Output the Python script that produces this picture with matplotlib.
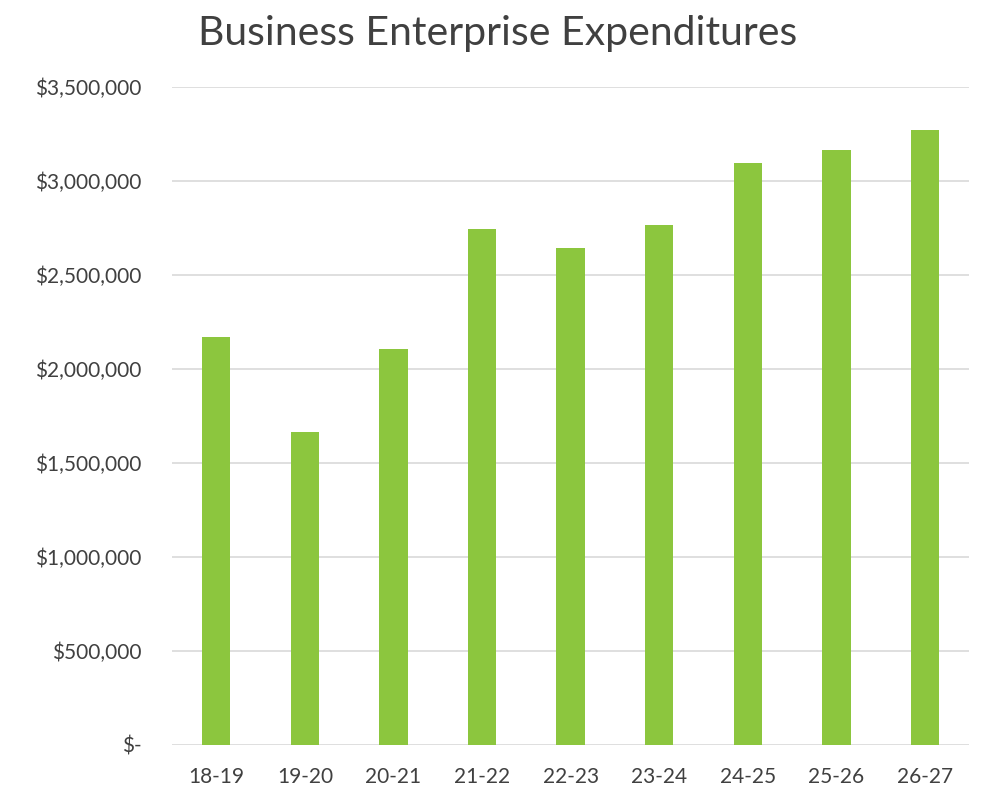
import numpy as np
import matplotlib
matplotlib.use("Agg")
from matplotlib import pyplot as plt
from matplotlib.ticker import FuncFormatter

# fiscal years and expenditures
years = ["18-19", "19-20", "20-21", "21-22", "22-23", "23-24", "24-25", "25-26", "26-27"]
expenditures = [2170000, 1665000, 2105000, 2745000, 2645000, 2765000, 3095000, 3165000, 3275000]
yticks = [0, 500000, 1000000, 1500000, 2000000, 2500000, 3000000, 3500000]

plt.rcParams['font.family'] = ['Lato', 'DejaVu Sans']

def money(v, pos):
    if v == 0:
        return "$-"
    return "${:,.0f}".format(v)

fig = plt.figure(figsize=(9.83, 8.01), dpi=100)
ax = fig.add_axes([0.175, 0.070, 0.811, 0.821])

x = np.arange(len(years))
ax.bar(x, expenditures, width=0.32, color='#8cc63e', zorder=3)

ax.set_xlim(-0.5, len(years) - 0.5)
ax.set_ylim(0, 3500000)
ax.set_yticks(yticks)
ax.yaxis.set_major_formatter(FuncFormatter(money))
ax.set_xticks(x)
ax.set_xticklabels(years)

ax.grid(axis='y', color='#d9d9d9', linewidth=1.2, zorder=0)
for s in ax.spines.values():
    s.set_visible(False)
ax.tick_params(axis='both', length=0, labelsize=15, labelcolor='#404040')
ax.tick_params(axis='y', pad=22)
ax.tick_params(axis='x', pad=16)

fig.text(0.506, 0.958, "Business Enterprise Expenditures", ha='center', va='center',
         fontsize=29.5, color='#404040')

fig.savefig("out.png", dpi=100)
